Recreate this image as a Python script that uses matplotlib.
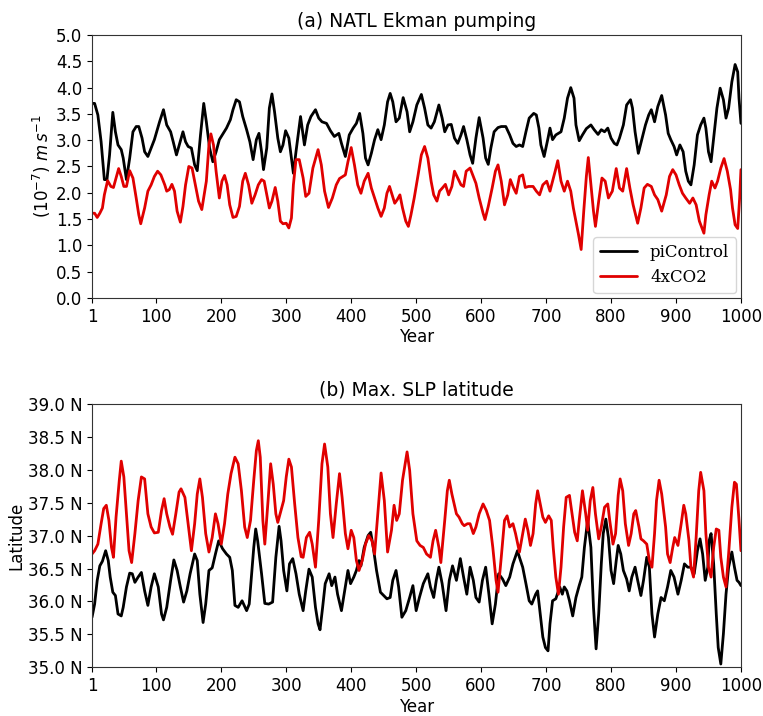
import matplotlib
matplotlib.use("Agg")
import matplotlib.pyplot as plt
from matplotlib.ticker import FormatStrFormatter

# (a) NATL Ekman pumping (10^-7 m/s)
ek_ctl_year = [1, 5, 10, 15, 20, 24, 28, 33, 37, 41, 46, 49, 54, 59, 64, 69, 73, 78, 82, 87,
               92, 97, 105, 111, 116, 122, 126, 131, 136, 141, 145, 149, 154, 159, 163, 168,
               173, 177, 182, 187, 192, 197, 203, 208, 214, 218, 223, 228, 233, 239, 244, 249,
               254, 258, 262, 265, 270, 274, 278, 282, 287, 291, 295, 299, 304, 308, 311, 315,
               322, 328, 333, 338, 345, 350, 355, 362, 368, 374, 381, 385, 391, 397, 403, 408,
               413, 418, 422, 426, 431, 436, 441, 446, 451, 456, 460, 464, 469, 474, 480, 486,
               490, 495, 501, 508, 513, 518, 523, 528, 535, 540, 544, 549, 554, 559, 564, 569,
               573, 578, 583, 587, 592, 597, 603, 607, 611, 615, 620, 626, 631, 638, 644, 649,
               654, 659, 664, 669, 674, 681, 685, 689, 692, 697, 703, 706, 710, 715, 723, 728,
               733, 738, 743, 746, 751, 756, 762, 769, 774, 780, 785, 790, 795, 800, 805, 809,
               813, 819, 824, 830, 833, 837, 842, 848, 853, 858, 862, 867, 872, 878, 884, 888,
               892, 897, 901, 906, 911, 915, 919, 923, 928, 933, 938, 943, 946, 950, 954, 958,
               963, 968, 973, 977, 981, 986, 991, 995, 997, 1000]
ek_ctl = [3.70, 3.70, 3.48, 2.97, 2.25, 2.25, 2.72, 3.53, 3.16, 2.91, 2.82, 2.66, 2.25, 2.66,
          3.16, 3.26, 3.26, 3.04, 2.78, 2.69, 2.85, 3.01, 3.35, 3.58, 3.29, 3.16, 2.97, 2.72,
          2.94, 3.16, 2.97, 2.88, 2.85, 2.53, 2.42, 3.10, 3.70, 3.35, 2.85, 2.59, 2.78, 3.01,
          3.13, 3.23, 3.39, 3.58, 3.77, 3.73, 3.45, 3.20, 2.97, 2.63, 3.01, 3.13, 2.78, 2.44,
          2.85, 3.61, 3.88, 3.54, 3.04, 2.78, 2.91, 3.18, 3.04, 2.66, 2.37, 2.78,
          3.45, 2.91, 3.29, 3.45, 3.58, 3.42, 3.35, 3.32, 3.18, 3.07, 3.13, 2.94, 2.69, 3.10,
          3.23, 3.32, 3.51, 3.13, 2.66, 2.53, 2.75, 3.01, 3.20, 3.01, 3.29, 3.73, 3.89, 3.73,
          3.35, 3.42, 3.81, 3.54, 3.16, 3.35, 3.67, 3.87, 3.61, 3.29, 3.23, 3.35, 3.67, 3.42,
          3.16, 3.29, 3.30, 3.04, 2.94, 3.10, 3.26, 3.01, 2.72, 2.56, 3.04, 3.43, 3.04, 2.66,
          2.54, 2.85, 3.16, 3.24, 3.26, 3.26, 3.10, 2.94, 2.88, 2.91, 2.88, 3.16, 3.42, 3.51,
          3.48, 3.23, 2.91, 2.69, 3.04, 3.23, 3.01, 3.10, 3.16, 3.42, 3.80, 4.00, 3.80, 3.29,
          2.99, 3.10, 3.22, 3.29, 3.20, 3.11, 3.20, 3.16, 3.23, 3.04, 2.94, 2.91, 3.04, 3.29,
          3.67, 3.77, 3.61, 3.16, 2.75, 3.04, 3.29, 3.48, 3.58, 3.35, 3.64, 3.85, 3.48, 3.13,
          3.01, 2.88, 2.72, 2.91, 2.78, 2.41, 2.22, 2.15, 2.53, 3.10, 3.29, 3.42, 3.23, 2.78,
          2.59, 3.04, 3.61, 3.99, 3.77, 3.42, 3.61, 4.11, 4.44, 4.30, 3.80, 3.32]

ek_co2_year = [1, 5, 9, 13, 17, 20, 25, 30, 34, 38, 42, 46, 50, 54, 59, 64, 69, 73, 76, 82, 87,
               92, 97, 102, 107, 113, 116, 120, 124, 128, 132, 137, 141, 145, 150, 155, 160,
               165, 170, 177, 181, 184, 188, 192, 197, 201, 205, 209, 213, 218, 223, 228, 233,
               237, 242, 247, 252, 257, 262, 266, 269, 274, 278, 283, 287, 291, 295, 300, 304,
               308, 311, 315, 320, 326, 330, 335, 341, 349, 354, 359, 365, 371, 377, 382, 387,
               391, 395, 400, 405, 410, 415, 420, 426, 431, 436, 441, 446, 451, 455, 459, 463,
               467, 471, 475, 479, 484, 488, 492, 497, 503, 508, 513, 518, 523, 527, 532, 536,
               541, 545, 550, 555, 559, 564, 569, 573, 577, 583, 587, 592, 597, 603, 606, 611,
               617, 622, 626, 631, 636, 641, 645, 650, 654, 659, 664, 668, 673, 680, 685, 690,
               695, 701, 706, 710, 714, 718, 723, 728, 733, 738, 742, 746, 750, 754, 758, 762,
               765, 769, 773, 776, 781, 786, 791, 796, 802, 808, 813, 818, 824, 829, 834, 841,
               846, 851, 856, 862, 867, 872, 878, 885, 890, 895, 900, 905, 910, 915, 921, 926,
               931, 936, 940, 943, 946, 951, 955, 960, 964, 969, 974, 979, 984, 987, 991, 995,
               998, 1000]
ek_co2 = [1.61, 1.61, 1.53, 1.61, 1.71, 1.96, 2.23, 2.12, 2.10, 2.28, 2.46, 2.31, 2.12, 2.12,
          2.42, 2.28, 1.90, 1.58, 1.41, 1.71, 2.03, 2.15, 2.31, 2.41, 2.34, 2.15, 2.03, 2.06,
          2.16, 2.03, 1.65, 1.44, 1.74, 2.15, 2.50, 2.47, 2.15, 1.84, 1.68, 2.22, 2.91, 3.12,
          2.91, 2.41, 1.90, 2.22, 2.33, 2.15, 1.77, 1.53, 1.55, 1.74, 2.22, 2.37, 2.15, 1.80,
          1.96, 2.15, 2.25, 2.22, 2.03, 1.71, 1.84, 2.10, 1.84, 1.46, 1.41, 1.42, 1.33, 1.52,
          2.15, 2.63, 2.63, 2.28, 1.93, 1.99, 2.47, 2.82, 2.53, 2.03, 1.72, 1.90, 2.15, 2.27,
          2.31, 2.34, 2.59, 2.86, 2.53, 2.15, 1.99, 2.22, 2.37, 2.09, 1.90, 1.71, 1.55, 1.71,
          1.99, 2.12, 1.96, 1.80, 1.87, 1.96, 1.71, 1.46, 1.36, 1.58, 1.90, 2.34, 2.72, 2.88,
          2.66, 2.22, 1.96, 1.84, 2.03, 2.10, 2.16, 1.96, 2.12, 2.41, 2.28, 2.15, 2.12, 2.41,
          2.47, 2.34, 2.18, 1.90, 1.61, 1.49, 1.74, 2.09, 2.41, 2.53, 2.22, 1.77, 1.96, 2.25,
          2.09, 1.99, 2.31, 2.34, 2.10, 2.12, 2.12, 2.03, 1.96, 2.15, 2.22, 2.03, 2.22, 2.41,
          2.61, 2.22, 2.03, 2.22, 2.03, 1.71, 1.46, 1.20, 0.92, 1.65, 2.31, 2.67, 2.15, 1.65,
          1.36, 1.84, 2.28, 2.22, 1.90, 2.03, 2.46, 2.09, 2.03, 2.46, 2.09, 1.77, 1.42, 1.71,
          2.09, 2.16, 2.12, 1.96, 1.87, 1.65, 1.96, 2.31, 2.44, 2.34, 2.15, 1.99, 1.90, 1.80,
          1.90, 1.77, 1.46, 1.33, 1.23, 1.58, 1.96, 2.22, 2.09, 2.22, 2.47, 2.65, 2.41, 2.06,
          1.71, 1.39, 1.32, 1.90, 2.44]

# (b) Max. SLP latitude (degrees N)
slp_ctl_year = [1, 5, 9, 13, 17, 22, 26, 29, 33, 37, 41, 46, 49, 54, 59, 63, 67, 72, 77, 82,
                87, 92, 97, 103, 108, 111, 116, 122, 127, 132, 137, 142, 147, 152, 159, 163,
                167, 172, 176, 181, 186, 191, 196, 202, 208, 213, 217, 221, 226, 232, 239, 243,
                246, 250, 253, 256, 262, 267, 273, 279, 284, 289, 292, 296, 301, 305, 310, 315,
                320, 326, 330, 335, 340, 345, 349, 352, 356, 360, 366, 370, 375, 379, 385, 390,
                395, 399, 404, 408, 412, 415, 420, 426, 430, 434, 439, 445, 450, 455, 460, 464,
                469, 473, 478, 484, 490, 495, 500, 505, 511, 518, 522, 527, 531, 535, 540, 546,
                551, 556, 562, 568, 573, 578, 583, 588, 592, 597, 602, 607, 612, 617, 622, 627,
                633, 638, 644, 649, 656, 659, 664, 669, 674, 678, 684, 687, 691, 695, 699, 703,
                706, 710, 715, 721, 725, 728, 732, 736, 741, 746, 751, 755, 759, 764, 769, 773,
                777, 781, 785, 788, 792, 796, 800, 804, 808, 811, 815, 819, 824, 828, 832, 837,
                841, 846, 850, 855, 859, 863, 867, 872, 877, 882, 887, 892, 897, 903, 908, 913,
                918, 923, 928, 933, 937, 941, 945, 949, 951, 954, 958, 962, 965, 969, 973, 977,
                981, 986, 990, 994, 997, 1000]
slp_ctl = [35.76, 35.96, 36.32, 36.54, 36.61, 36.77, 36.62, 36.37, 36.14, 36.09, 35.81, 35.78,
           35.91, 36.22, 36.43, 36.42, 36.29, 36.37, 36.44, 36.16, 35.94, 36.22, 36.42, 36.22,
           35.81, 35.72, 35.91, 36.32, 36.63, 36.47, 36.22, 35.99, 36.16, 36.42, 36.72, 36.62,
           36.11, 35.68, 35.96, 36.47, 36.51, 36.72, 36.92, 36.80, 36.72, 36.67, 36.47, 35.94,
           35.91, 36.01, 35.86, 35.96, 36.32, 36.82, 37.10, 36.92, 36.42, 35.97, 35.96, 35.99,
           36.67, 37.14, 36.92, 36.47, 36.16, 36.57, 36.65, 36.42, 36.11, 35.86, 36.16, 36.49,
           36.37, 35.91, 35.66, 35.57, 35.91, 36.27, 36.42, 36.24, 36.37, 36.11, 35.86, 36.16,
           36.47, 36.27, 36.37, 36.47, 36.62, 36.54, 36.82, 37.00, 37.05, 36.82, 36.47, 36.14,
           36.09, 36.04, 36.06, 36.32, 36.47, 36.22, 35.76, 35.86, 36.06, 36.24, 35.86, 36.06,
           36.27, 36.42, 36.22, 36.06, 36.32, 36.52, 36.27, 35.86, 36.32, 36.54, 36.32, 36.65,
           36.37, 36.11, 36.52, 36.32, 36.06, 35.99, 36.32, 36.52, 36.11, 35.66, 35.96, 36.42,
           36.34, 36.24, 36.37, 36.57, 36.77, 36.67, 36.52, 36.27, 36.01, 35.96, 36.11, 36.16,
           35.81, 35.46, 35.30, 35.25, 35.66, 36.01, 36.04, 36.22, 36.11, 36.22, 36.16, 36.01,
           35.78, 36.06, 36.24, 36.37, 36.82, 37.23, 36.82, 35.91, 35.28, 35.81, 36.57, 37.03,
           37.25, 36.97, 36.47, 36.27, 36.62, 36.85, 36.72, 36.47, 36.34, 36.16, 36.37, 36.52,
           36.32, 36.09, 36.32, 36.67, 36.52, 35.81, 35.46, 35.81, 36.06, 36.01, 36.22, 36.47,
           36.37, 36.11, 36.32, 36.57, 36.52, 36.52, 36.42, 36.77, 36.95, 36.72, 36.32, 36.52,
           36.92, 37.03, 36.57, 35.81, 35.30, 35.05, 35.51, 36.11, 36.52, 36.75, 36.52, 36.32,
           36.29, 36.24]

slp_co2_year = [1, 5, 10, 15, 19, 23, 27, 31, 34, 38, 43, 46, 50, 54, 58, 62, 67, 72, 77, 82,
                87, 92, 97, 103, 108, 112, 116, 121, 125, 130, 135, 138, 144, 149, 154, 159, 163,
                167, 171, 176, 181, 186, 191, 195, 200, 205, 210, 215, 221, 226, 231, 236, 240,
                245, 250, 254, 257, 260, 264, 267, 272, 276, 280, 284, 287, 292, 296, 300, 304,
                308, 313, 318, 323, 326, 331, 336, 340, 345, 350, 355, 359, 364, 368, 372, 377,
                382, 386, 391, 395, 400, 404, 408, 412, 417, 422, 427, 432, 436, 441, 446, 451,
                456, 462, 466, 470, 474, 479, 486, 490, 495, 501, 506, 511, 516, 522, 526, 530,
                535, 538, 544, 548, 551, 555, 562, 566, 571, 574, 579, 583, 588, 592, 597, 603,
                608, 613, 618, 623, 626, 631, 636, 640, 644, 649, 653, 659, 663, 668, 672, 676,
                680, 684, 687, 691, 695, 699, 704, 708, 711, 715, 719, 723, 727, 731, 736, 740,
                744, 748, 751, 756, 761, 764, 768, 772, 776, 781, 785, 790, 795, 798, 803, 807,
                811, 814, 818, 822, 827, 831, 835, 838, 843, 846, 850, 855, 859, 863, 867, 870,
                874, 878, 884, 887, 891, 895, 898, 903, 908, 912, 915, 920, 923, 927, 931, 935,
                938, 943, 946, 950, 954, 958, 962, 966, 969, 973, 977, 981, 986, 990, 993, 997,
                1000]
slp_co2 = [36.72, 36.77, 36.87, 37.18, 37.41, 37.46, 37.23, 36.82, 36.67, 37.28, 37.84, 38.13,
           37.89, 37.33, 36.77, 36.59, 37.03, 37.53, 37.89, 37.86, 37.33, 37.13, 37.04, 37.05,
           37.38, 37.56, 37.33, 37.13, 37.02, 37.33, 37.66, 37.71, 37.58, 37.18, 36.77, 37.18,
           37.63, 37.86, 37.58, 37.03, 36.75, 36.97, 37.33, 37.18, 36.87, 37.18, 37.63, 37.94,
           38.19, 38.09, 37.68, 37.13, 36.97, 37.23, 37.84, 38.29, 38.44, 38.19, 37.23, 36.87,
           37.53, 38.09, 37.78, 37.33, 37.20, 37.38, 37.53, 37.89, 38.16, 38.04, 37.48, 36.97,
           36.68, 36.67, 36.97, 37.05, 36.87, 36.52, 37.23, 38.09, 38.39, 38.04, 37.33, 36.97,
           37.48, 37.94, 37.58, 37.03, 36.80, 37.08, 36.97, 36.62, 36.47, 36.62, 36.87, 37.00,
           36.92, 36.72, 37.33, 37.95, 37.53, 36.75, 37.08, 37.46, 37.23, 37.33, 37.84, 38.27,
           37.99, 37.33, 36.92, 36.85, 36.82, 36.72, 36.67, 36.92, 37.08, 36.82, 36.59, 37.23,
           37.68, 37.84, 37.63, 37.33, 37.28, 37.18, 37.15, 37.18, 37.18, 37.03, 37.13, 37.33,
           37.48, 37.38, 37.23, 36.82, 36.32, 36.14, 36.67, 37.23, 37.30, 37.13, 37.18, 37.03,
           36.75, 36.97, 37.25, 37.08, 36.85, 37.03, 37.48, 37.68, 37.48, 37.28, 37.20, 37.30,
           37.23, 36.82, 36.37, 36.11, 36.52, 37.13, 37.58, 37.61, 37.33, 37.05, 36.92, 37.23,
           37.68, 37.33, 37.08, 37.53, 37.73, 37.33, 36.95, 37.13, 37.43, 37.48, 37.23, 36.87,
           37.03, 37.61, 37.86, 37.68, 37.18, 36.85, 37.03, 37.33, 37.38, 37.13, 36.95, 36.92,
           36.87, 36.62, 36.52, 37.03, 37.53, 37.84, 37.63, 37.13, 36.72, 36.59, 36.82, 36.97,
           36.85, 37.18, 37.46, 37.33, 36.92, 36.52, 36.37, 36.97, 37.68, 37.96, 37.68, 37.03,
           36.52, 36.37, 36.82, 37.10, 37.08, 36.67, 36.37, 36.22, 36.72, 37.43, 37.81, 37.78,
           37.23, 36.77]

xticks = [1, 100, 200, 300, 400, 500, 600, 700, 800, 900, 1000]

fig = plt.figure(figsize=(7.63, 7.16), dpi=100)
ax1 = fig.add_axes([0.1206, 0.584, 0.8505, 0.367])
ax2 = fig.add_axes([0.1206, 0.068, 0.8505, 0.368])

line_kw = dict(lw=2, solid_joinstyle="round", solid_capstyle="round")

ax1.plot(ek_ctl_year, ek_ctl, color="black", label="piControl", **line_kw)
ax1.plot(ek_co2_year, ek_co2, color="#e00000", label="4xCO2", **line_kw)
ax1.set_xlim(1, 1000)
ax1.set_ylim(0, 5)
ax1.set_xticks(xticks)
ax1.set_yticks([i * 0.5 for i in range(11)])
ax1.yaxis.set_major_formatter(FormatStrFormatter("%.1f"))
ax1.set_title("(a) NATL Ekman pumping", fontsize=13.5, pad=6)
ax1.set_xlabel("Year", fontsize=12, labelpad=2)
ax1.set_ylabel(r"$(10^{-7})\ m\,s^{-1}$", fontsize=12, labelpad=2)
ax1.legend(loc="lower right", prop={"family": "DejaVu Serif", "size": 12},
           borderaxespad=0.3, handlelength=2.2)

ax2.plot(slp_ctl_year, slp_ctl, color="black", **line_kw)
ax2.plot(slp_co2_year, slp_co2, color="#e00000", **line_kw)
ax2.set_xlim(1, 1000)
ax2.set_ylim(35, 39)
ax2.set_xticks(xticks)
ax2.set_yticks([35 + i * 0.5 for i in range(9)])
ax2.yaxis.set_major_formatter(FormatStrFormatter("%.1f N"))
ax2.set_title("(b) Max. SLP latitude", fontsize=13.5, pad=6)
ax2.set_xlabel("Year", fontsize=12, labelpad=2)
ax2.set_ylabel("Latitude", fontsize=12, labelpad=2)

for ax in (ax1, ax2):
    ax.tick_params(labelsize=12)
    for s in ax.spines.values():
        s.set_color("#333333")

fig.savefig("out.png", dpi=100)
